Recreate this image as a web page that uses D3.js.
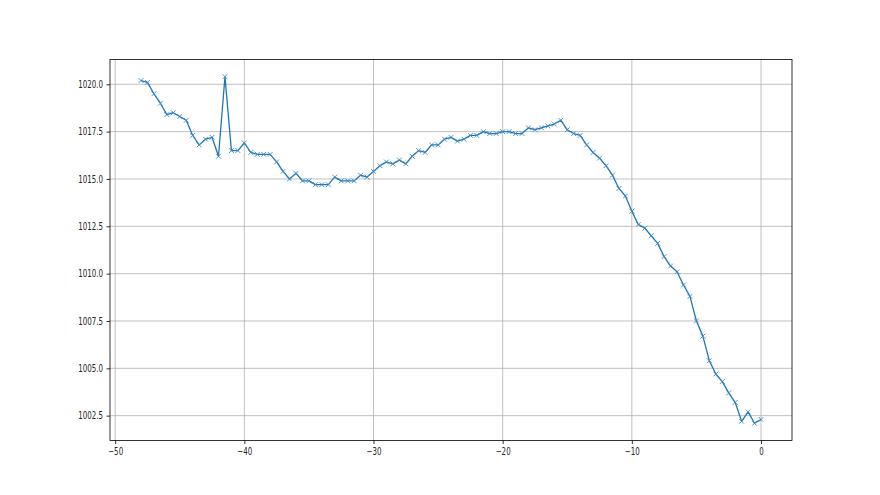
<!DOCTYPE html>
<html>
<head>
<meta charset="utf-8">
<script src="https://cdn.jsdelivr.net/npm/d3@7"></script>
<style>
  html, body { margin: 0; padding: 0; background: #fff; overflow: hidden; }
  svg { display: block; }
  .tick text { font-family: "DejaVu Sans", sans-serif; font-size: 10px; fill: #262626; }
</style>
</head>
<body>
<div id="chart"></div>
<script>
// hours relative to now, one reading every half hour
const hours = [
  -48, -47.5, -47, -46.5, -46, -45.5, -45, -44.5, -44, -43.5, -43, -42.5,
  -42, -41.5, -41, -40.5, -40, -39.5, -39, -38.5, -38, -37.5, -37, -36.5,
  -36, -35.5, -35, -34.5, -34, -33.5, -33, -32.5, -32, -31.5, -31, -30.5,
  -30, -29.5, -29, -28.5, -28, -27.5, -27, -26.5, -26, -25.5, -25, -24.5,
  -24, -23.5, -23, -22.5, -22, -21.5, -21, -20.5, -20, -19.5, -19, -18.5,
  -18, -17.5, -17, -16.5, -16, -15.5, -15, -14.5, -14, -13.5, -13, -12.5,
  -12, -11.5, -11, -10.5, -10, -9.5, -9, -8.5, -8, -7.5, -7, -6.5,
  -6, -5.5, -5, -4.5, -4, -3.5, -3, -2.5, -2, -1.5, -1, -0.5, 0
]
// pressure (hPa)
const pressure = [
  1020.2, 1020.1, 1019.5, 1019.0, 1018.4, 1018.5, 1018.3, 1018.1, 1017.3, 1016.8, 1017.1, 1017.2,
  1016.2, 1020.4, 1016.5, 1016.5, 1016.9, 1016.4, 1016.3, 1016.3, 1016.3, 1015.9, 1015.4, 1015.0,
  1015.3, 1014.9, 1014.9, 1014.7, 1014.7, 1014.7, 1015.1, 1014.9, 1014.9, 1014.9, 1015.2, 1015.1,
  1015.4, 1015.7, 1015.9, 1015.8, 1016.0, 1015.8, 1016.2, 1016.5, 1016.4, 1016.8, 1016.8, 1017.1,
  1017.2, 1017.0, 1017.1, 1017.3, 1017.3, 1017.5, 1017.4, 1017.4, 1017.5, 1017.5, 1017.4, 1017.4,
  1017.7, 1017.6, 1017.7, 1017.8, 1017.9, 1018.1, 1017.6, 1017.4, 1017.3, 1016.8, 1016.4, 1016.1,
  1015.7, 1015.2, 1014.5, 1014.1, 1013.3, 1012.6, 1012.4, 1012.0, 1011.6, 1010.9, 1010.4, 1010.1,
  1009.4, 1008.8, 1007.5, 1006.7, 1005.4, 1004.7, 1004.3, 1003.7, 1003.2, 1002.2, 1002.7, 1002.1, 1002.3
]
const xTicks = [-50, -40, -30, -20, -10, 0]
const yTicks = [1002.5, 1005.0, 1007.5, 1010.0, 1012.5, 1015.0, 1017.5, 1020.0]

const width = 880, height = 495
const margin = {top: 59.4, right: 88, bottom: 54.45, left: 110}
const innerWidth = width - margin.left - margin.right
const innerHeight = height - margin.top - margin.bottom
const squeeze = 0.71   // tick labels in the picture are narrow

const data = hours.map((h, i) => ({h: h, p: pressure[i]}))

// matplotlib style 5% margins
const xExt = d3.extent(hours), yExt = d3.extent(pressure)
const xPad = (xExt[1] - xExt[0]) * 0.05, yPad = (yExt[1] - yExt[0]) * 0.05

const x = d3.scaleLinear().domain([xExt[0] - xPad, xExt[1] + xPad]).range([0, innerWidth])
const y = d3.scaleLinear().domain([yExt[0] - yPad, yExt[1] + yPad]).range([innerHeight, 0])

const svg = d3.select('#chart').append('svg')
              .attr('width', width)
              .attr('height', height)

const g = svg.append('g')
             .attr('transform', 'translate(' + margin.left + ',' + margin.top + ')')

// grid
g.append('g').selectAll('line').data(xTicks).enter().append('line')
  .attr('x1', d => x(d)).attr('x2', d => x(d))
  .attr('y1', 0).attr('y2', innerHeight)
  .attr('stroke', '#b0b0b0').attr('stroke-width', 0.8)
g.append('g').selectAll('line').data(yTicks).enter().append('line')
  .attr('x1', 0).attr('x2', innerWidth)
  .attr('y1', d => y(d)).attr('y2', d => y(d))
  .attr('stroke', '#b0b0b0').attr('stroke-width', 0.8)

const fmtX = d => (d < 0 ? '\u2212' + Math.abs(d) : String(d))

const xAxis = g.append('g')
  .attr('transform', 'translate(0,' + innerHeight + ')')
  .call(d3.axisBottom(x).tickValues(xTicks).tickFormat(fmtX).tickSizeOuter(0).tickSize(3.5).tickPadding(3.5))
const yAxis = g.append('g')
  .call(d3.axisLeft(y).tickValues(yTicks).tickFormat(d3.format('.1f')).tickSizeOuter(0).tickSize(3.5).tickPadding(3.5))
xAxis.select('.domain').remove()
yAxis.select('.domain').remove()
svg.selectAll('.tick line').attr('stroke', '#000').attr('stroke-width', 0.8)

// narrow the labels horizontally around their anchor
svg.selectAll('.tick text').each(function() {
  const t = d3.select(this)
  const tx = +t.attr('x') || 0
  t.attr('x', 0).attr('transform', 'translate(' + tx + ',0) scale(' + squeeze + ',1)')
})

// the line
const line = d3.line().x(d => x(d.h)).y(d => y(d.p))
g.append('path').datum(data)
  .attr('d', line)
  .attr('fill', 'none')
  .attr('stroke', '#1f77b4')
  .attr('stroke-width', 1.3)
  .attr('stroke-linejoin', 'round')

// x markers
const m = 2.4
g.append('g').selectAll('path').data(data).enter().append('path')
  .attr('d', d => {
    const cx = x(d.h), cy = y(d.p)
    return 'M' + (cx - m) + ',' + (cy - m) + 'L' + (cx + m) + ',' + (cy + m) +
           'M' + (cx - m) + ',' + (cy + m) + 'L' + (cx + m) + ',' + (cy - m)
  })
  .attr('stroke', '#3d8ac4')
  .attr('stroke-width', 0.9)
  .attr('fill', 'none')

// spines
g.append('rect')
  .attr('width', innerWidth).attr('height', innerHeight)
  .attr('fill', 'none').attr('stroke', '#000').attr('stroke-width', 0.8)
</script>
</body>
</html>
